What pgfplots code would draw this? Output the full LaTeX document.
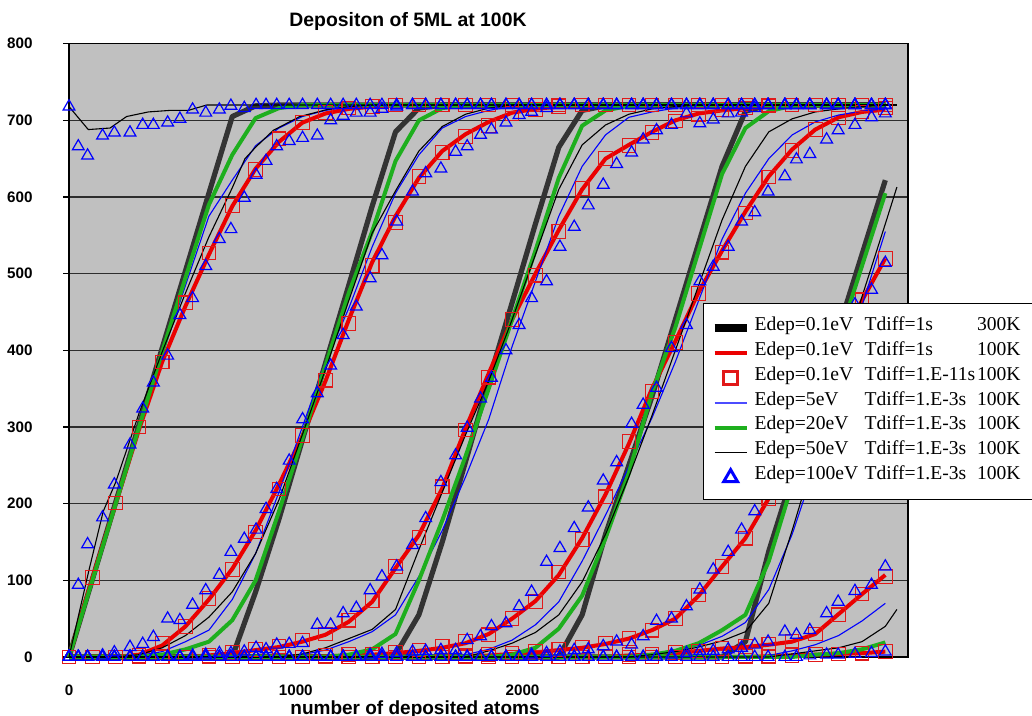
\documentclass[border=0pt]{standalone}
\usepackage{fontspec}
\setmainfont{Liberation Serif}
\setsansfont{Liberation Sans}
\usepackage{pgfplots}
\usepackage{pgfplotstable}
\pgfplotsset{compat=1.18}

\definecolor{plotbg}{RGB}{192,192,192}
\definecolor{thickgray}{RGB}{51,51,51}
\definecolor{redline}{RGB}{235,0,0}
\definecolor{sqred}{RGB}{225,25,25}
\definecolor{blueline}{RGB}{0,0,255}
\definecolor{greenline}{RGB}{30,175,30}
\definecolor{gridc}{RGB}{45,45,45}

% Edep=0.1eV Tdiff=1.E-11s 100K, one column per layer
\pgfplotstableread{
x C1 C2 C3 C4 C5 C6 C7
0 0 0 0 0 0 0 0
103 104 0 0 0 0 0 0
206 201 0 0 0 0 0 0
309 300 2 0 0 0 0 0
411 385 18 0 0 0 0 0
514 462 40 0 0 0 0 0
617 527 76 2 0 0 0 0
720 589 114 6 0 0 0 0
823 636 163 10 0 0 0 0
926 676 219 14 0 0 0 0
1029 697 289 22 0 0 0 0
1131 710 361 30 2 0 0 0
1234 716 435 48 3 0 0 0
1337 718 511 74 4 0 0 0
1440 720 567 118 6 0 0 0
1543 720 627 156 9 0 0 0
1646 720 658 222 14 0 0 0
1749 720 679 296 20 1 0 0
1851 720 693 365 29 3 0 0
1954 720 709 440 50 5 0 0
2057 720 714 498 72 7 0 0
2160 720 718 555 111 10 0 0
2263 720 720 611 153 13 0 0
2366 720 720 650 209 18 0 0
2469 720 720 667 281 24 3 0
2571 720 720 684 346 35 4 0
2674 720 720 699 410 50 6 0
2777 720 720 708 474 81 8 0
2880 720 720 714 528 118 11 0
2983 720 720 716 579 155 14 1
3086 720 720 719 626 207 17 1
3189 720 720 720 661 268 21 2
3291 720 720 720 688 333 30 3
3394 720 720 720 703 400 55 4
3497 720 720 720 711 466 82 5
3600 720 720 720 716 520 105 7
}\squares

% Edep=100eV Tdiff=1.E-3s 100K, G0 = substrate layer
\pgfplotstableread{
x G0 G1 G2 G3 G4 G5 G6 G7
0 718 0 0 0 0 0 0 0
41 666 94 0 0 0 0 0 0
82 654 147 0 0 0 0 0 0
148 680 182 2 0 0 0 0 0
200 684 225 6 0 0 0 0 0
269 684 277 13 0 0 0 0 0
325 694 324 17 0 0 0 0 0
372 694 358 26 0 0 0 0 0
435 697 393 50 0 0 0 0 0
489 702 446 48 0 0 0 0 0
545 714 468 68 2 0 0 0 0
603 710 510 87 3 0 0 0 0
663 714 545 107 5 0 0 0 0
714 719 558 137 5 0 0 0 0
773 716 599 154 7 0 0 0 0
825 720 629 166 12 0 0 0 0
869 720 647 193 10 0 0 0 0
916 720 666 219 16 0 0 0 0
971 720 673 256 17 0 0 0 0
1030 720 677 310 18 0 0 0 0
1095 720 680 344 42 0 0 0 0
1154 720 700 380 42 0 0 0 0
1209 720 706 420 57 0 0 0 0
1267 720 710 457 64 0 0 0 0
1328 720 710 494 87 3 0 0 0
1380 720 715 524 105 4 0 0 0
1445 720 718 568 118 5 0 0 0
1515 720 720 607 146 7 0 0 0
1573 720 720 631 181 8 0 0 0
1640 720 720 637 228 9 0 0 0
1705 720 720 659 263 9 0 0 0
1756 720 720 666 299 22 0 0 0
1815 720 720 681 337 27 0 0 0
1863 720 720 688 364 40 0 0 0
1927 720 720 697 400 44 0 0 0
1985 720 720 707 433 66 0 0 0
2040 720 720 711 468 85 3 0 0
2106 720 720 716 490 124 5 0 0
2165 720 720 720 535 142 7 0 0
2228 720 720 720 561 168 9 0 0
2290 720 720 720 589 195 10 0 0
2356 720 720 720 616 230 14 0 0
2415 720 720 720 643 254 20 0 0
2481 720 720 720 658 304 16 0 0
2532 720 720 720 675 329 27 0 0
2591 720 720 720 687 351 47 0 0
2657 720 720 720 694 403 50 3 0
2723 720 720 720 709 433 66 5 0
2782 720 720 720 696 490 88 8 0
2841 720 720 720 701 509 114 8 0
2907 720 720 720 709 535 137 10 0
2966 720 720 720 710 568 166 12 0
3024 720 720 720 716 580 190 16 0
3083 720 720 720 720 607 230 20 0
3157 720 720 720 720 627 280 33 0
3208 720 720 720 720 649 320 29 0
3267 720 720 720 720 656 360 35 2
3341 720 720 720 720 675 400 57 3
3392 720 720 720 720 687 430 72 3
3466 720 720 720 720 694 460 86 4
3539 720 720 720 720 704 479 94 5
3600 720 720 720 720 709 514 118 7
}\tris

\begin{document}
\begin{tikzpicture}
\begin{axis}[
  at={(34.5pt,29.5pt)}, anchor=south west,
  scale only axis, width=419.5pt, height=306.65pt,
  xmin=0, xmax=3700, ymin=0, ymax=800,
  clip=false,
  axis background/.style={fill=plotbg},
  axis line style={line width=0.75pt},
  xtick={0,1000,2000,3000}, xticklabels={0,1000,2000,3000},
  ytick={0,100,...,800}, yticklabels={0,100,200,300,400,500,600,700,800},
  ymajorgrids, grid style={gridc, line width=0.55pt},
  tick align=outside, ytick pos=left, xtick style={draw=none},
  major tick length=3pt, ytick style={black, line width=0.6pt},
  ticklabel style={font=\sffamily\bfseries\fontsize{7.6}{9}\selectfont},
  xticklabel style={anchor=north, inner sep=0pt, yshift=-10.5pt},
  yticklabel style={anchor=east, inner sep=0pt, xshift=-15pt},
  legend cell align=left,
  legend style={at={(0.7557,0.5772)}, anchor=north west,
    draw=black, line width=0.6pt, fill=white,
    font=\fontsize{9.8}{11}\selectfont,
    inner xsep=3.5pt, inner ysep=5.4pt, row sep=0pt,
    nodes={inner sep=0pt, text height=7.95pt, text depth=4.5pt}},
]
% Edep=0.1eV Tdiff=1s 300K
\addplot[thickgray, line width=2.6pt, line join=round,
  legend image code/.code={\draw[black, line width=4pt] (0pt,-0.7pt) -- (16pt,-0.7pt); \path[draw=none] (0pt,0pt) -- (20pt,0pt);}]
  coordinates {(0,0)(103,101)(206,202)(309,303)(411,403)(514,504)(617,605)(720,705)(823,719)(926,720)(3600,720)};
\addlegendentry{\makebox[55pt][l]{Edep=0.1eV}\makebox[56pt][l]{Tdiff=1s}\makebox[22pt][r]{300K}\hspace*{22pt}}
\addplot[thickgray, line width=2.6pt, line join=round, forget plot]
  coordinates {(0,0)(720,0)(823,85)(926,180)(1029,283)(1131,383)(1234,485)(1337,588)(1440,685)(1543,716)(1646,720)(3600,720)};
\addplot[thickgray, line width=2.6pt, line join=round, forget plot]
  coordinates {(0,0)(1337,0)(1440,3)(1543,55)(1646,150)(1749,255)(1851,360)(1954,462)(2057,565)(2160,665)(2263,713)(2366,719)(2469,720)(3600,720)};
\addplot[thickgray, line width=2.6pt, line join=round, forget plot]
  coordinates {(0,0)(2160,0)(2263,55)(2366,160)(2469,250)(2571,340)(2674,440)(2777,540)(2880,640)(2983,712)(3086,720)(3600,720)};
\addplot[thickgray, line width=2.6pt, line join=round, forget plot]
  coordinates {(0,0)(2880,0)(2983,20)(3086,138)(3189,235)(3291,330)(3394,428)(3497,525)(3600,622)};

% Edep=0.1eV Tdiff=1s 100K
\addplot[redline, line width=2pt, line join=round,
  legend image code/.code={\draw[redline, line width=2pt] (0pt,-0.7pt) -- (16pt,-0.7pt); \path[draw=none] (0pt,0pt) -- (20pt,0pt);}]
  coordinates {(0,0)(103,103)(206,200)(309,297)(411,385)(514,458)(617,525)(720,588)(823,637)(926,672)(1029,697)(1131,709)(1234,715)(1337,718)(1440,720)(3600,720)};
\addlegendentry{\makebox[55pt][l]{Edep=0.1eV}\makebox[56pt][l]{Tdiff=1s}\makebox[22pt][r]{100K}\hspace*{22pt}}
\addplot[redline, line width=2pt, line join=round, forget plot]
  coordinates {(0,0)(206,0)(309,3)(411,15)(514,40)(617,75)(720,115)(823,165)(926,225)(1029,288)(1131,360)(1234,440)(1337,515)(1440,575)(1543,625)(1646,660)(1749,682)(1851,698)(1954,710)(2057,715)(2160,718)(2263,720)(3600,720)};
\addplot[redline, line width=2pt, line join=round, forget plot]
  coordinates {(0,0)(514,0)(617,2)(720,5)(823,9)(926,13)(1029,20)(1131,29)(1234,46)(1337,72)(1440,116)(1543,159)(1646,220)(1749,298)(1851,370)(1954,440)(2057,500)(2160,557)(2263,610)(2366,650)(2469,668)(2571,685)(2674,700)(2777,709)(2880,713)(2983,716)(3086,718)(3189,720)(3600,720)};
\addplot[redline, line width=2pt, line join=round, forget plot]
  coordinates {(0,0)(1029,0)(1131,1)(1234,2)(1337,3)(1440,5)(1543,8)(1646,12)(1749,18)(1851,30)(1954,50)(2057,73)(2160,107)(2263,155)(2366,212)(2469,278)(2571,350)(2674,412)(2777,476)(2880,530)(2983,581)(3086,627)(3189,662)(3291,688)(3394,704)(3497,711)(3600,714)};
\addplot[redline, line width=2pt, line join=round, forget plot]
  coordinates {(0,0)(1646,0)(1749,1)(1851,2)(1954,4)(2057,6)(2160,9)(2263,12)(2366,17)(2469,24)(2571,35)(2674,50)(2777,80)(2880,118)(2983,155)(3086,207)(3189,270)(3291,335)(3394,400)(3497,465)(3600,520)};
\addplot[redline, line width=2pt, line join=round, forget plot]
  coordinates {(0,0)(2366,0)(2469,2)(2571,3)(2674,5)(2777,8)(2880,11)(2983,13)(3086,16)(3189,20)(3291,30)(3394,56)(3497,82)(3600,107)};
\addplot[redline, line width=2pt, line join=round, forget plot]
  coordinates {(0,0)(2983,0)(3086,1)(3189,2)(3291,3)(3394,4)(3497,5)(3600,7)};

% Edep=0.1eV Tdiff=1.E-11s 100K
\addplot[only marks, mark=square, mark size=3.4pt, mark options={sqred, line width=0.55pt},
  legend image code/.code={\draw[sqred, line width=1.6pt] (8pt,-0.7pt) ++(-3.4pt,-3.4pt) rectangle ++(6.8pt,6.8pt); \path[draw=none] (0pt,0pt) -- (20pt,0pt);}]
  table[x=x, y=C1] {\squares};
\addlegendentry{\makebox[55pt][l]{Edep=0.1eV}\makebox[56pt][l]{Tdiff=1.E-11s}\makebox[22pt][r]{100K}\hspace*{22pt}}
\addplot[only marks, mark=square, mark size=3.4pt, mark options={sqred, line width=0.55pt}, forget plot] table[x=x, y=C2] {\squares};
\addplot[only marks, mark=square, mark size=3.4pt, mark options={sqred, line width=0.55pt}, forget plot] table[x=x, y=C3] {\squares};
\addplot[only marks, mark=square, mark size=3.4pt, mark options={sqred, line width=0.55pt}, forget plot] table[x=x, y=C4] {\squares};
\addplot[only marks, mark=square, mark size=3.4pt, mark options={sqred, line width=0.55pt}, forget plot] table[x=x, y=C5] {\squares};
\addplot[only marks, mark=square, mark size=3.4pt, mark options={sqred, line width=0.55pt}, forget plot] table[x=x, y=C6] {\squares};
\addplot[only marks, mark=square, mark size=3.4pt, mark options={sqred, line width=0.55pt}, forget plot] table[x=x, y=C7] {\squares};

% Edep=5eV Tdiff=1.E-3s 100K
\addplot[blueline, line width=0.55pt, line join=round,
  legend image code/.code={\draw[blueline!70, line width=0.8pt] (0pt,-0.7pt) -- (16pt,-0.7pt); \path[draw=none] (0pt,0pt) -- (20pt,0pt);}]
  coordinates {(0,0)(103,100)(206,200)(309,298)(411,393)(514,485)(617,575)(720,622)(823,667)(926,690)(1029,705)(1131,713)(1234,718)(1337,720)(3600,720)};
\addlegendentry{\makebox[55pt][l]{Edep=5eV}\makebox[56pt][l]{Tdiff=1.E-3s}\makebox[22pt][r]{100K}\hspace*{22pt}}
\addplot[blueline, line width=0.55pt, line join=round, forget plot]
  coordinates {(0,0)(206,0)(309,2)(411,7)(514,20)(617,35)(720,75)(823,135)(926,215)(1029,300)(1131,385)(1234,455)(1337,535)(1440,605)(1543,655)(1646,690)(1749,705)(1851,713)(1954,718)(2057,720)(3600,720)};
\addplot[blueline, line width=0.55pt, line join=round, forget plot]
  coordinates {(0,0)(926,0)(1029,3)(1131,9)(1234,20)(1337,33)(1440,55)(1543,105)(1646,165)(1749,235)(1851,310)(1954,405)(2057,490)(2160,575)(2263,640)(2366,681)(2469,704)(2571,711)(2674,716)(2777,719)(2880,720)(3600,720)};
\addplot[blueline, line width=0.55pt, line join=round, forget plot]
  coordinates {(0,0)(1646,0)(1749,3)(1851,10)(1954,22)(2057,42)(2160,72)(2263,125)(2366,185)(2469,248)(2571,312)(2674,385)(2777,465)(2880,545)(2983,605)(3086,650)(3189,681)(3291,698)(3394,707)(3497,712)(3600,715)};
\addplot[blueline, line width=0.55pt, line join=round, forget plot]
  coordinates {(0,0)(2366,0)(2469,2)(2571,4)(2674,9)(2777,15)(2880,27)(2983,45)(3086,88)(3189,160)(3291,250)(3394,355)(3497,458)(3600,555)};
\addplot[blueline, line width=0.55pt, line join=round, forget plot]
  coordinates {(0,0)(2983,0)(3086,2)(3189,8)(3291,16)(3394,28)(3497,47)(3600,70)};

% Edep=20eV Tdiff=1.E-3s 100K
\addplot[greenline, line width=2pt, line join=round,
  legend image code/.code={\draw[greenline, line width=2pt] (0pt,-0.7pt) -- (16pt,-0.7pt); \path[draw=none] (0pt,0pt) -- (20pt,0pt);}]
  coordinates {(0,0)(103,100)(206,200)(309,300)(411,398)(514,495)(617,590)(720,655)(823,703)(926,716)(1029,720)(3600,720)};
\addlegendentry{\makebox[55pt][l]{Edep=20eV}\makebox[56pt][l]{Tdiff=1.E-3s}\makebox[22pt][r]{100K}\hspace*{22pt}}
\addplot[greenline, line width=2pt, line join=round, forget plot]
  coordinates {(0,0)(309,0)(411,3)(514,10)(617,20)(720,48)(823,100)(926,190)(1029,285)(1131,380)(1234,475)(1337,555)(1440,647)(1543,700)(1646,716)(1749,720)(3600,720)};
\addplot[greenline, line width=2pt, line join=round, forget plot]
  coordinates {(0,0)(1131,0)(1234,3)(1337,10)(1440,30)(1543,100)(1646,178)(1749,262)(1851,350)(1954,440)(2057,530)(2160,625)(2263,693)(2366,713)(2469,719)(2571,720)(3600,720)};
\addplot[greenline, line width=2pt, line join=round, forget plot]
  coordinates {(0,0)(1851,0)(1954,3)(2057,12)(2160,37)(2263,80)(2366,155)(2469,240)(2571,345)(2674,430)(2777,530)(2880,630)(2983,690)(3086,712)(3189,719)(3291,720)(3600,720)};
\addplot[greenline, line width=2pt, line join=round, forget plot]
  coordinates {(0,0)(2469,0)(2571,3)(2674,8)(2777,18)(2880,35)(2983,55)(3086,125)(3189,225)(3291,320)(3394,415)(3497,510)(3600,605)};
\addplot[greenline, line width=2pt, line join=round, forget plot]
  coordinates {(0,0)(3189,0)(3291,3)(3394,5)(3497,10)(3600,19)};

% Edep=50eV Tdiff=1.E-3s 100K
\addplot[black, line width=0.55pt, line join=round,
  legend image code/.code={\draw[black, line width=0.6pt] (0pt,-0.7pt) -- (16pt,-0.7pt); \path[draw=none] (0pt,0pt) -- (20pt,0pt);}]
  coordinates {(0,718)(85,688)(181,690)(254,705)(350,711)(445,713)(526,713)(607,720)(3651,720)};
\addlegendentry{\makebox[55pt][l]{Edep=50eV}\makebox[56pt][l]{Tdiff=1.E-3s}\makebox[22pt][r]{100K}\hspace*{22pt}}
\addplot[black, line width=0.55pt, line join=round, forget plot]
  coordinates {(0,0)(87,112)(151,190)(206,228)(309,318)(411,398)(514,475)(617,548)(720,612)(776,650)(823,665)(901,687)(1018,705)(1136,714)(1234,718)(1337,720)(3651,720)};
\addplot[black, line width=0.55pt, line join=round, forget plot]
  coordinates {(0,0)(206,0)(309,3)(411,12)(514,28)(617,52)(720,85)(823,135)(926,205)(1029,290)(1131,375)(1234,465)(1337,553)(1440,608)(1543,660)(1646,692)(1749,708)(1851,716)(1954,720)(3651,720)};
\addplot[black, line width=0.55pt, line join=round, forget plot]
  coordinates {(0,0)(926,0)(1029,4)(1131,12)(1234,24)(1337,36)(1440,62)(1543,140)(1646,215)(1749,290)(1851,360)(1954,440)(2057,525)(2160,610)(2263,668)(2366,694)(2469,708)(2571,715)(2674,718)(2777,720)(3651,720)};
\addplot[black, line width=0.55pt, line join=round, forget plot]
  coordinates {(0,0)(1749,0)(1851,8)(1954,18)(2057,32)(2160,55)(2263,98)(2366,160)(2469,235)(2571,315)(2674,400)(2777,485)(2880,570)(2983,640)(3086,685)(3189,702)(3291,711)(3394,715)(3497,718)(3600,720)(3651,720)};
\addplot[black, line width=0.55pt, line join=round, forget plot]
  coordinates {(0,0)(2469,0)(2571,3)(2674,7)(2777,13)(2880,21)(2983,33)(3086,70)(3189,165)(3291,265)(3394,370)(3497,470)(3600,565)(3651,613)};
\addplot[black, line width=0.55pt, line join=round, forget plot]
  coordinates {(0,0)(3086,0)(3189,4)(3291,8)(3394,12)(3497,20)(3600,40)(3651,62)};

% Edep=100eV Tdiff=1.E-3s 100K
\addplot[only marks, mark=triangle, mark size=3.4pt, mark options={blueline, line width=0.6pt},
  legend image code/.code={\draw[blueline, line width=1.5pt, mark=triangle, mark size=4pt, mark options={blueline}] plot coordinates {(8pt,-0.7pt)}; \path[draw=none] (0pt,0pt) -- (20pt,0pt);}]
  table[x=x, y=G0] {\tris};
\addlegendentry{\makebox[55pt][l]{Edep=100eV}\makebox[56pt][l]{Tdiff=1.E-3s}\makebox[22pt][r]{100K}\hspace*{22pt}}
\addplot[only marks, mark=triangle, mark size=3.4pt, mark options={blueline, line width=0.6pt}, forget plot] table[x=x, y=G1] {\tris};
\addplot[only marks, mark=triangle, mark size=3.4pt, mark options={blueline, line width=0.6pt}, forget plot] table[x=x, y=G2] {\tris};
\addplot[only marks, mark=triangle, mark size=3.4pt, mark options={blueline, line width=0.6pt}, forget plot] table[x=x, y=G3] {\tris};
\addplot[only marks, mark=triangle, mark size=3.4pt, mark options={blueline, line width=0.6pt}, forget plot] table[x=x, y=G4] {\tris};
\addplot[only marks, mark=triangle, mark size=3.4pt, mark options={blueline, line width=0.6pt}, forget plot] table[x=x, y=G5] {\tris};
\addplot[only marks, mark=triangle, mark size=3.4pt, mark options={blueline, line width=0.6pt}, forget plot] table[x=x, y=G6] {\tris};
\addplot[only marks, mark=triangle, mark size=3.4pt, mark options={blueline, line width=0.6pt}, forget plot] table[x=x, y=G7] {\tris};
\end{axis}
\node[anchor=base, font=\sffamily\bfseries\fontsize{9.7}{11}\selectfont] at (204pt,344.6pt) {Depositon of 5ML at 100K};
\node[anchor=base, font=\sffamily\bfseries\fontsize{9.5}{11}\selectfont] at (207.5pt,0.8pt) {number of deposited atoms};
\pgfresetboundingbox
\path[use as bounding box] (0pt,0pt) rectangle (516pt,358pt);
\end{tikzpicture}
\end{document}
